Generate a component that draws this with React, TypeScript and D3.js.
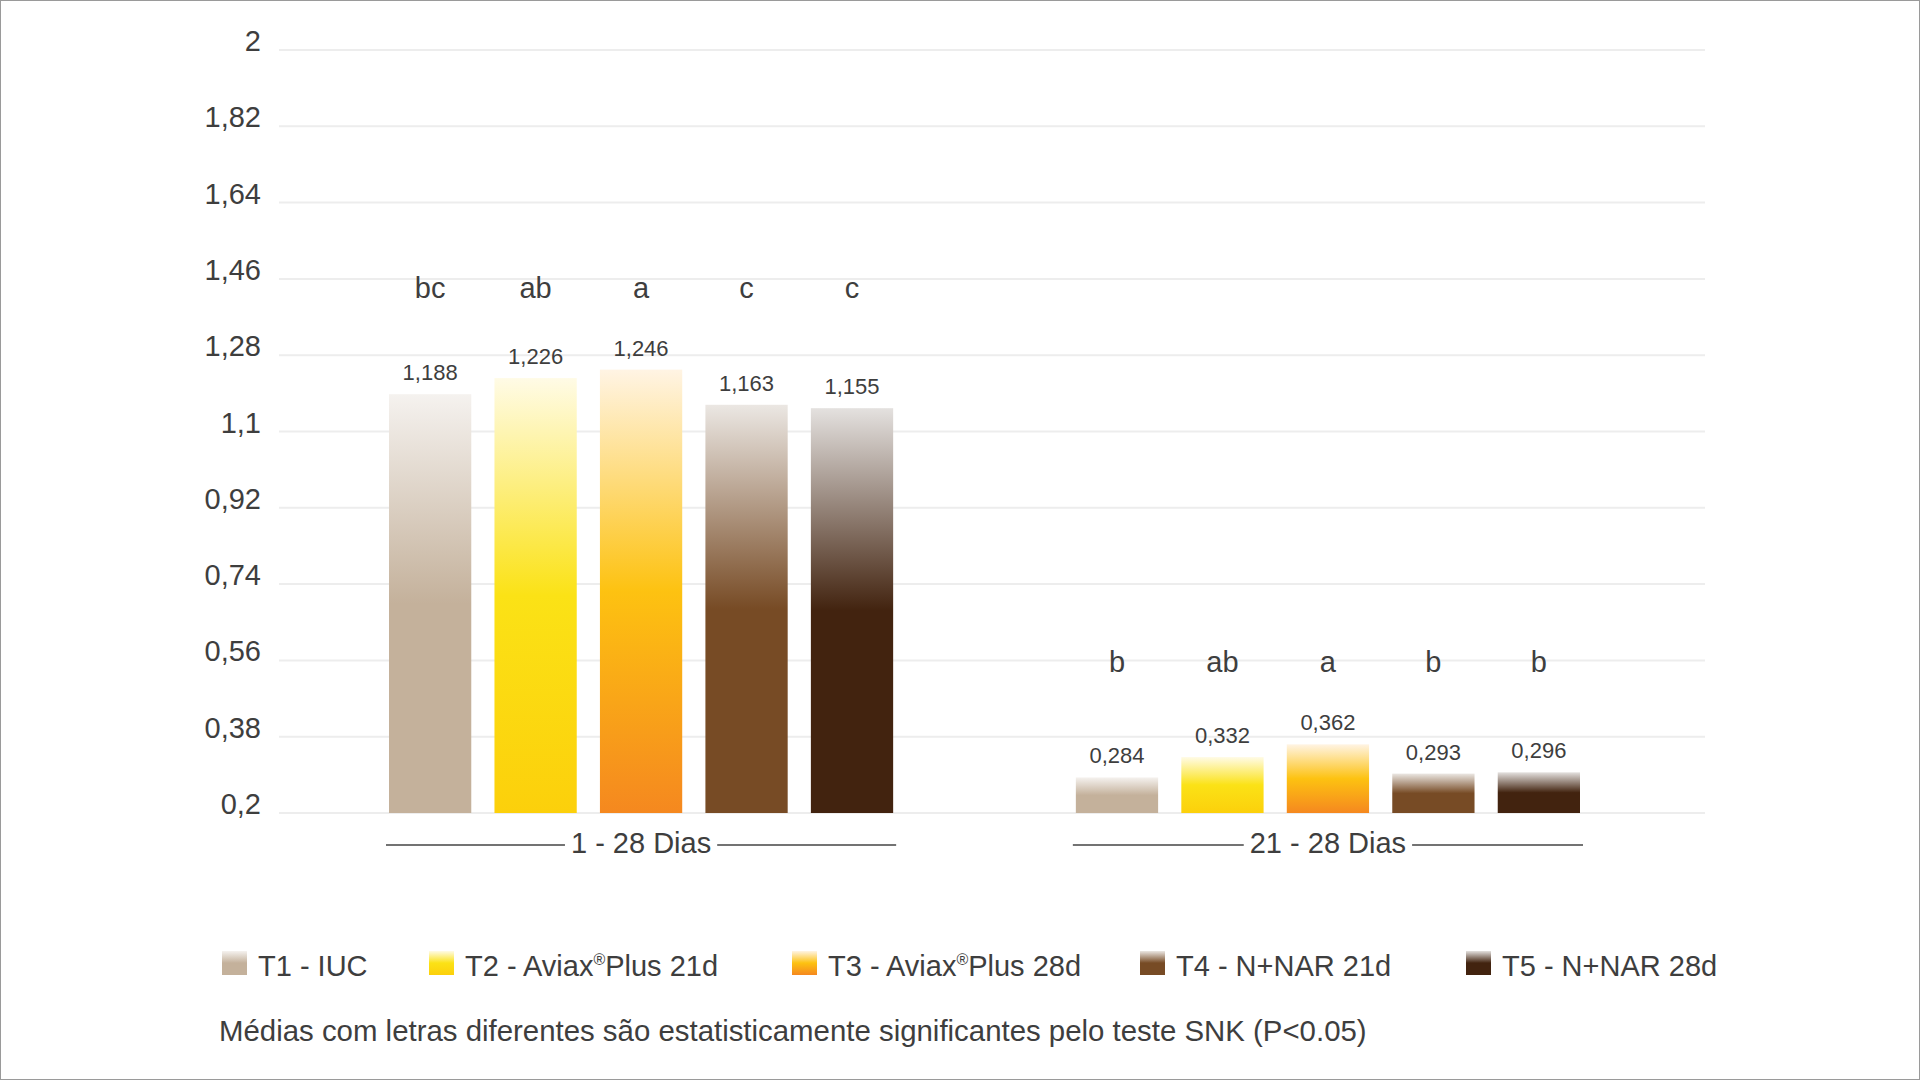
import { useEffect, useRef } from "react";
import * as d3 from "d3";

const periods = ["1 - 28 Dias", "21 - 28 Dias"];
const treatments = [
  "T1 - IUC",
  "T2 - Aviax®Plus 21d",
  "T3 - Aviax®Plus 28d",
  "T4 - N+NAR 21d",
  "T5 - N+NAR 28d",
];
const values1to28 = [1.188, 1.226, 1.246, 1.163, 1.155];
const values21to28 = [0.284, 0.332, 0.362, 0.293, 0.296];
const letters1to28 = ["bc", "ab", "a", "c", "c"];
const letters21to28 = ["b", "ab", "a", "b", "b"];
const yTicks = [0.2, 0.38, 0.56, 0.74, 0.92, 1.1, 1.28, 1.46, 1.64, 1.82, 2];
const footnote =
  "Médias com letras diferentes são estatisticamente significantes pelo teste SNK (P<0.05)";

// top -> middle -> bottom of each bar
const gradients = [
  ["#f5f2ef", "#c4b19b", "#c4b19b"],
  ["#fffbe6", "#fbe216", "#fcd00b"],
  ["#fff4e4", "#fdc211", "#f5881f"],
  ["#ebe7e3", "#774b25", "#774b25"],
  ["#e4e1df", "#42230f", "#42230f"],
];

const FONT = "'Liberation Sans', Arial, Helvetica, sans-serif";
const TEXT = "#3e3e3e";

export default function App() {
  const svgRef = useRef<SVGSVGElement | null>(null);

  useEffect(() => {
    if (!svgRef.current) return;
    const svg = d3.select(svgRef.current);
    svg.selectAll("*").remove();

    const width = 1920;
    const height = 1080;
    svg.attr("width", width).attr("height", height).style("font-family", FONT);

    svg.append("rect").attr("width", width).attr("height", height).attr("fill", "#fff");
    svg
      .append("rect")
      .attr("x", 0.5)
      .attr("y", 0.5)
      .attr("width", width - 1)
      .attr("height", height - 1)
      .attr("fill", "none")
      .attr("stroke", "#9a9a9a");

    const defs = svg.append("defs");
    gradients.forEach((stops, i) => {
      const lg = defs
        .append("linearGradient")
        .attr("id", `grad${i}`)
        .attr("x1", 0)
        .attr("y1", 0)
        .attr("x2", 0)
        .attr("y2", 1);
      [0, 0.5, 1].forEach((o, k) => {
        lg.append("stop").attr("offset", o).attr("stop-color", stops[k]);
      });
    });

    const y = d3.scaleLinear().domain([0.2, 2]).range([813, 50]);
    const x0 = d3.scaleBand().domain(periods).range([389, 1580]).paddingInner(0.266);
    const x1 = d3
      .scaleBand()
      .domain(treatments)
      .range([0, x0.bandwidth()])
      .paddingInner(0.22);

    const locale = d3.formatLocale({
      decimal: ",",
      thousands: ".",
      grouping: [3],
      currency: ["R$", ""],
    });
    const fmtTick = locale.format("~g");
    const fmtVal = locale.format(".3f");

    // grid + y labels
    const grid = svg.append("g");
    grid
      .selectAll("line")
      .data(yTicks)
      .enter()
      .append("line")
      .attr("x1", 279)
      .attr("x2", 1705)
      .attr("y1", (d) => y(d))
      .attr("y2", (d) => y(d))
      .attr("stroke", "#ededed")
      .attr("stroke-width", 2);
    grid
      .selectAll("text")
      .data(yTicks)
      .enter()
      .append("text")
      .attr("x", 261)
      .attr("y", (d) => y(d) + 1)
      .attr("text-anchor", "end")
      .attr("font-size", 29)
      .attr("fill", TEXT)
      .text((d) => fmtTick(d));

    const series = [
      { period: periods[0], values: values1to28, letters: letters1to28 },
      { period: periods[1], values: values21to28, letters: letters21to28 },
    ];

    series.forEach((s) => {
      const g = svg.append("g").attr("transform", `translate(${x0(s.period)},0)`);
      const rows = treatments.map((t, i) => ({ t, i, v: s.values[i], l: s.letters[i] }));

      g.selectAll("rect")
        .data(rows)
        .enter()
        .append("rect")
        .attr("x", (d) => x1(d.t)!)
        .attr("width", x1.bandwidth())
        .attr("y", (d) => y(d.v))
        .attr("height", (d) => y(0.2) - y(d.v))
        .attr("fill", (d) => `url(#grad${d.i})`);

      g.selectAll("text.val")
        .data(rows)
        .enter()
        .append("text")
        .attr("class", "val")
        .attr("x", (d) => x1(d.t)! + x1.bandwidth() / 2)
        .attr("y", (d) => y(d.v) - 14)
        .attr("text-anchor", "middle")
        .attr("font-size", 22)
        .attr("fill", TEXT)
        .text((d) => fmtVal(d.v));

      const top = d3.max(s.values)!;
      g.selectAll("text.letter")
        .data(rows)
        .enter()
        .append("text")
        .attr("class", "letter")
        .attr("x", (d) => x1(d.t)! + x1.bandwidth() / 2)
        .attr("y", y(top + 0.17))
        .attr("text-anchor", "middle")
        .attr("font-size", 29)
        .attr("fill", TEXT)
        .text((d) => d.l);

      // period label with side lines
      const bw = x0.bandwidth();
      const label = g
        .append("text")
        .attr("x", bw / 2)
        .attr("y", 853)
        .attr("text-anchor", "middle")
        .attr("font-size", 29)
        .attr("fill", TEXT)
        .text(s.period);
      const tw = (label.node() as SVGTextElement).getComputedTextLength();
      const ly = 845;
      [
        [-3, bw / 2 - tw / 2 - 6],
        [bw / 2 + tw / 2 + 6, bw + 3],
      ].forEach(([a, b]) => {
        g.append("line")
          .attr("x1", a)
          .attr("x2", b)
          .attr("y1", ly)
          .attr("y2", ly)
          .attr("stroke", "#444")
          .attr("stroke-width", 1.6);
      });
    });

    // legend
    const legendX = [222, 429, 792, 1140, 1466];
    const legend = svg.append("g");
    treatments.forEach((t, i) => {
      const item = legend.append("g").attr("transform", `translate(${legendX[i]},0)`);
      item
        .append("rect")
        .attr("x", 0)
        .attr("y", 951)
        .attr("width", 25)
        .attr("height", 24)
        .attr("fill", `url(#grad${i})`);
      const txt = item
        .append("text")
        .attr("x", 36)
        .attr("y", 976)
        .attr("font-size", 29)
        .attr("fill", TEXT);
      const parts = t.split("®");
      txt.append("tspan").text(parts[0]);
      if (parts.length > 1) {
        txt.append("tspan").attr("font-size", 16).attr("dy", -11).text("®");
        txt.append("tspan").attr("dy", 11).text(parts[1]);
      }
    });

    svg
      .append("text")
      .attr("x", 219)
      .attr("y", 1041)
      .attr("font-size", 29.4)
      .attr("fill", TEXT)
      .text(footnote);
  }, []);

  return (
    <div style={{ position: "absolute", top: 0, left: 0 }}>
      <svg ref={svgRef} style={{ display: "block" }} />
    </div>
  );
}
